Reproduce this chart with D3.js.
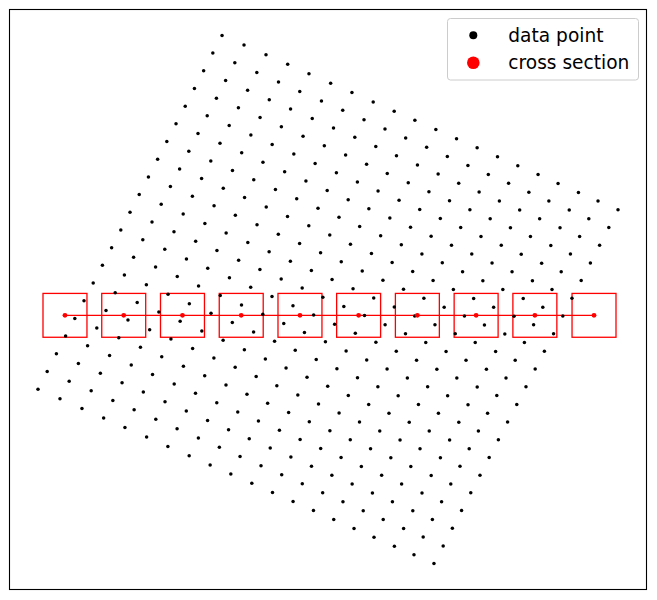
<!DOCTYPE html>
<html>
<head>
<meta charset="utf-8">
<script src="https://cdn.jsdelivr.net/npm/d3@7"></script>
<style>
  html, body { margin: 0; padding: 0; background: #fff; }
  svg { display: block; }
  text { font-family: "DejaVu Sans", sans-serif; }
</style>
</head>
<body>
<svg id="chart" width="657" height="600"></svg>
<script>
// ---- data ----
// grid coordinate along the first grid axis (non-uniform spacing)
const uVals = [0, 2.2, 4.4, 6.57, 8.7, 10.87, 13.0, 15.13, 17.23, 19.3,
               21.4, 23.47, 25.53, 27.57, 29.6, 31.63, 33.63, 35.67, 37.63, 39.63];
// grid index along the second grid axis
const vVals = [0, 1, 2, 3, 4, 5, 6, 7, 8, 9, 10, 11, 12, 13, 14, 15, 16, 17, 18, 19, 20];
// placement of the rotated grid in data space
const gridOrigin = [22.2, 56.47];
const uDir = [1, -0.4416];
const vStep = [-0.921, -1.775];

// cross section sample centres
const csX = [6.48, 12.36, 18.24, 24.12, 30.0, 35.87, 41.75, 47.63, 53.51, 59.43];
const csY = [28.38, 28.38, 28.38, 28.38, 28.38, 28.38, 28.38, 28.38, 28.38, 28.38];
const boxHalf = 2.2;

const legendLabels = ["data point", "cross section"];

// ---- build points (meshgrid of the grid axes) ----
const points = [];
vVals.forEach(v => {
  uVals.forEach(u => {
    points.push({
      x: gridOrigin[0] + u * uDir[0] + v * vStep[0],
      y: gridOrigin[1] + u * uDir[1] + v * vStep[1]
    });
  });
});
const cs = csX.map((x, i) => ({x: x, y: csY[i]}));

// ---- scales (5% margins like matplotlib autoscale) ----
const L = 9, R = 647, T = 9, B = 590;
const xe = d3.extent(points, d => d.x), ye = d3.extent(points, d => d.y);
const px = (xe[1] - xe[0]) * 0.05, py = (ye[1] - ye[0]) * 0.05;
const x = d3.scaleLinear().domain([xe[0] - px, xe[1] + px]).range([L, R]);
const y = d3.scaleLinear().domain([ye[0] - py, ye[1] + py]).range([B, T]);

const svg = d3.select("#chart");

// cross-section boxes
svg.append("g").selectAll("rect").data(cs).join("rect")
  .attr("x", d => x(d.x - boxHalf))
  .attr("y", d => y(d.y + boxHalf))
  .attr("width", d => x(d.x + boxHalf) - x(d.x - boxHalf))
  .attr("height", d => y(d.y - boxHalf) - y(d.y + boxHalf))
  .attr("fill", "none")
  .attr("stroke", "#ff0000")
  .attr("stroke-width", 1.3);

// cross-section line
svg.append("path").datum(cs)
  .attr("d", d3.line().x(d => x(d.x)).y(d => y(d.y)))
  .attr("fill", "none")
  .attr("stroke", "#ff0000")
  .attr("stroke-width", 1.3);

// data points
svg.append("g").selectAll("circle").data(points).join("circle")
  .attr("cx", d => x(d.x))
  .attr("cy", d => y(d.y))
  .attr("r", 1.75)
  .attr("fill", "#000");

// cross-section points
svg.append("g").selectAll("circle").data(cs).join("circle")
  .attr("cx", d => x(d.x))
  .attr("cy", d => y(d.y))
  .attr("r", 2.4)
  .attr("fill", "#ff0000");

// frame
svg.append("rect")
  .attr("x", L + 0.5).attr("y", T + 0.5)
  .attr("width", R - L - 1).attr("height", B - T - 1)
  .attr("fill", "none").attr("stroke", "#000").attr("stroke-width", 1.1);

// legend
const lg = svg.append("g");
lg.append("rect")
  .attr("x", 447.5).attr("y", 18.5).attr("width", 191).attr("height", 61.5)
  .attr("rx", 3).attr("ry", 3)
  .attr("fill", "#fff").attr("fill-opacity", 0.8)
  .attr("stroke", "#cccccc").attr("stroke-width", 1);
const legendColors = ["#000", "#ff0000"];
const legendR = [4, 6.3];
legendLabels.forEach((lab, i) => {
  const cy = 35.3 + i * 27.4;
  lg.append("circle").attr("cx", 473.3).attr("cy", cy).attr("r", legendR[i]).attr("fill", legendColors[i]);
  lg.append("text").attr("x", 508.3).attr("y", cy + 6.3)
    .attr("font-size", 18.6).attr("fill", "#000").text(lab);
});
</script>
</body>
</html>
